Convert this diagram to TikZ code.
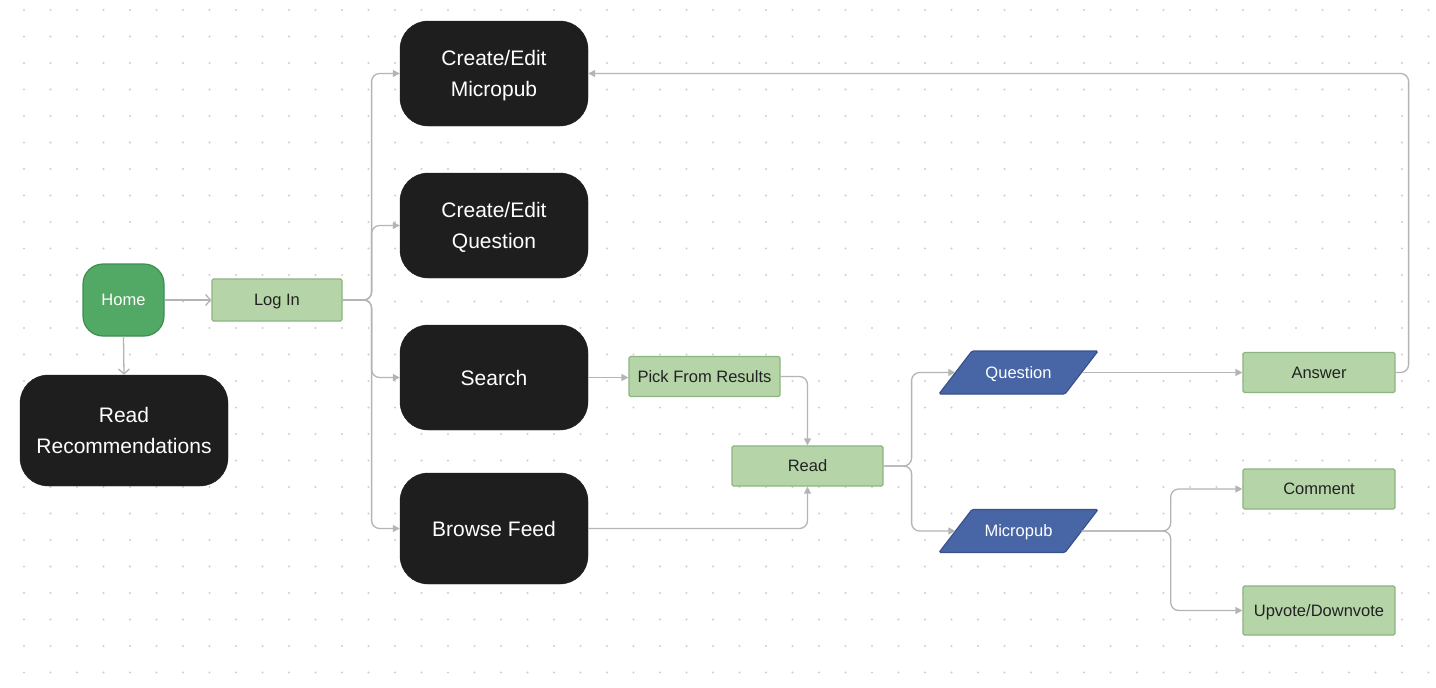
\documentclass[tikz,border=0pt]{standalone}
\usepackage{fontspec}
\setmainfont{Liberation Sans}
\usetikzlibrary{arrows.meta,calc}
\definecolor{boxblack}{HTML}{1E1E1E}
\definecolor{homegreen}{HTML}{52A865}
\definecolor{homeborder}{HTML}{3E8E50}
\definecolor{lightgreen}{HTML}{B5D5A8}
\definecolor{lgborder}{HTML}{8DB582}
\definecolor{parblue}{HTML}{4865A5}
\definecolor{parborder}{HTML}{39528C}
\definecolor{connc}{HTML}{B4B4B4}
\definecolor{dotc}{HTML}{CFCFCF}
\definecolor{darktext}{HTML}{222222}
\tikzset{
  bigbox/.style={fill=boxblack, draw=boxblack, rounded corners=28pt, text=white, text depth=0pt,
    minimum width=188pt, align=center, font=\fontsize{21}{31}\selectfont},
  greenbox/.style={fill=lightgreen, draw=lgborder, line width=1.2pt, rounded corners=1.5pt,
    text=darktext, text depth=0pt, minimum width=151pt, minimum height=40pt, inner sep=2pt,
    font=\fontsize{16.5}{20}\selectfont},
  homebox/.style={fill=homegreen, draw=homeborder, line width=1.2pt, rounded corners=20pt,
    text=white, text depth=0pt, minimum width=81pt, minimum height=72pt, font=\fontsize{16.5}{20}\selectfont},
  partext/.style={text=white, text depth=0pt, minimum width=126pt, minimum height=43pt, inner sep=0pt,
    font=\fontsize{16.5}{20}\selectfont},
  parshape/.style={fill=parblue, draw=parborder, line width=1.2pt, rounded corners=1.5pt},
  conn/.style={draw=connc, line width=1.3pt, rounded corners=8pt,
    -{Triangle[length=7pt,width=7pt]}},
  openconn/.style={draw=connc, line width=1.3pt, -{Straight Barb[length=5pt,width=11pt]}}
}
\newcommand{\parallelo}[3]{%
  \path[parshape] ($(#1)+(-79.5,21.5)$) -- ($(#1)+(46.5,21.5)$) -- ($(#1)+(79.5,-21.5)$) -- ($(#1)+(-46.5,-21.5)$) -- cycle;%
  \node[partext] (#2) at (#1) {#3};}
\begin{document}
\begin{tikzpicture}[x=1pt,y=-1pt]
\fill[white] (0,0) rectangle (1436,688);
\useasboundingbox (0,0) rectangle (1436,688);
\foreach \i in {0,...,53}{\foreach \j in {0,...,25}{\fill[dotc] (24+26.5*\i,10+26.5*\j) circle (1.1);}}

% nodes
\node[homebox] (home) at (123.5,300) {Home};
\node[greenbox, minimum width=130pt, minimum height=42pt] (login) at (277,300) {Log In};
\node[bigbox, minimum width=208pt, minimum height=111pt] (readrec) at (124,430.5) {Read\\Recommendations};
\node[bigbox, minimum height=105pt] (cem) at (494,73.5) {Create/Edit\\Micropub};
\node[bigbox, minimum height=105pt] (ceq) at (494,225.5) {Create/Edit\\Question};
\node[bigbox, minimum height=105pt] (search) at (494,377.5) {Search};
\node[bigbox, minimum height=111pt] (browse) at (494,528.5) {Browse Feed};
\node[greenbox] (pick) at (704.5,376.5) {Pick From Results};
\node[greenbox] (read) at (807.5,466) {Read};
\coordinate (qc) at (1018.5,372.5);
\coordinate (mc) at (1018.5,531);
\parallelo{qc}{q}{Question}
\parallelo{mc}{mp}{Micropub}
\node[greenbox, minimum width=152pt] (answer) at (1319,372.5) {Answer};
\node[greenbox, minimum width=152pt] (comment) at (1319,489) {Comment};
\node[greenbox, minimum width=152pt, minimum height=49pt] (updown) at (1319,610.5) {Upvote/Downvote};

% connectors
\draw[openconn] (home.east) -- (login.west);
\draw[openconn] (home.south) -- (readrec.north);
\draw[conn] (login.east) -- ++(29,0) |- (cem.west);
\draw[conn] (login.east) -- ++(29,0) |- (ceq.west);
\draw[conn] (login.east) -- ++(29,0) |- (search.west);
\draw[conn] (login.east) -- ++(29,0) |- (browse.west);
\draw[conn] (search.east) -- (search.east -| pick.west);
\draw[conn] (pick.east) -| (read.north);
\draw[conn] (browse.east) -| (read.south);
\draw[conn] (read.east) -- ++(28,0) |- (q.west);
\draw[conn] (read.east) -- ++(28,0) |- (mp.west);
\draw[conn] (q.east) -- (answer.west);
\draw[conn] (mp.east) -- ++(89,0) |- (comment.west);
\draw[conn] (mp.east) -- ++(89,0) |- (updown.west);
\draw[conn] (answer.east) -- ++(13,0) |- (cem.east);
\end{tikzpicture}
\end{document}
